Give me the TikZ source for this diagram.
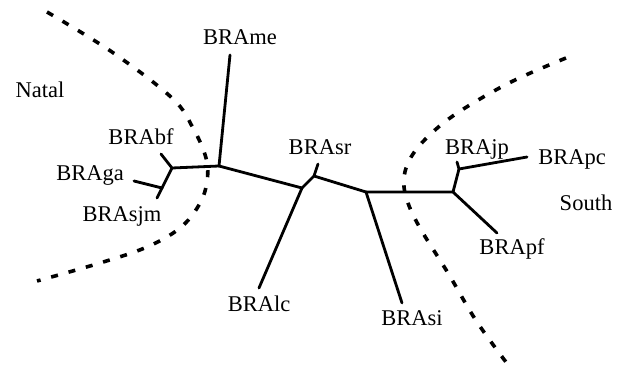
\documentclass[tikz,border=0pt]{standalone}
\usepackage{fontspec}
\setmainfont{Liberation Serif}
\begin{document}
\begin{tikzpicture}[x=1pt,y=-1pt,
  branch/.style={line width=2.8pt,line cap=round,line join=round},
  region/.style={line width=3.6pt,dash pattern=on 7pt off 11pt},
  lab/.style={anchor=base,inner sep=0pt,font=\fontsize{22.5}{26}\selectfont}]
\useasboundingbox (0,0) rectangle (625,377);
% tree vertices
\coordinate (A) at (172,168);
\coordinate (tbf) at (161,154);
\coordinate (G) at (162,188);
\coordinate (tga) at (134,181);
\coordinate (tsjm) at (157,198);
\coordinate (B) at (219,166);
\coordinate (tme) at (230,55);
\coordinate (C) at (302,188);
\coordinate (tlc) at (259,288);
\coordinate (H) at (314,176);
\coordinate (tsr) at (318,164);
\coordinate (D) at (366,192);
\coordinate (tsi) at (402,303);
\coordinate (E) at (453,192);
\coordinate (tpf) at (497,233);
\coordinate (F) at (459,169);
\coordinate (tjp) at (457,162);
\coordinate (tpc) at (527,157);
% branches
\draw[branch] (tbf) -- (A) -- (B);
\draw[branch] (A) -- (G);
\draw[branch] (tga) -- (G) -- (tsjm);
\draw[branch] (B) -- (tme);
\draw[branch] (B) -- (C) -- (tlc);
\draw[branch] (C) -- (H) -- (tsr);
\draw[branch] (H) -- (D) -- (tsi);
\draw[branch] (D) -- (E) -- (tpf);
\draw[branch] (E) -- (F) -- (tjp);
\draw[branch] (F) -- (tpc);
% region boundaries
\draw[region] plot[smooth,tension=0.6] coordinates {(47,12) (112,52) (172,98) (193,128) (206,158) (207,182) (199,205) (180,228) (147,247) (100,263) (37,281)};
\draw[region] plot[smooth,tension=0.6] coordinates {(566,58) (513,81) (465,108) (435,130) (413,154) (404,177) (407,200) (420,228) (448,273) (477,322) (512,370)};
% labels
\node[lab] (lme) at (240,45) {BRAme};
\node[lab] (lnatal) at (40,98) {Natal};
\node[lab] (lbf) at (141,145) {BRAbf};
\node[lab] (lga) at (90,181) {BRAga};
\node[lab] (lsjm) at (122,222) {BRAsjm};
\node[lab] (lsr) at (320,155) {BRAsr};
\node[lab] (ljp) at (477,155) {BRAjp};
\node[lab] (lpc) at (572,165) {BRApc};
\node[lab] (lsouth) at (586,211) {South};
\node[lab] (lpf) at (512,255) {BRApf};
\node[lab] (llc) at (259,312) {BRAlc};
\node[lab] (lsi) at (412,326) {BRAsi};
\end{tikzpicture}
\end{document}
